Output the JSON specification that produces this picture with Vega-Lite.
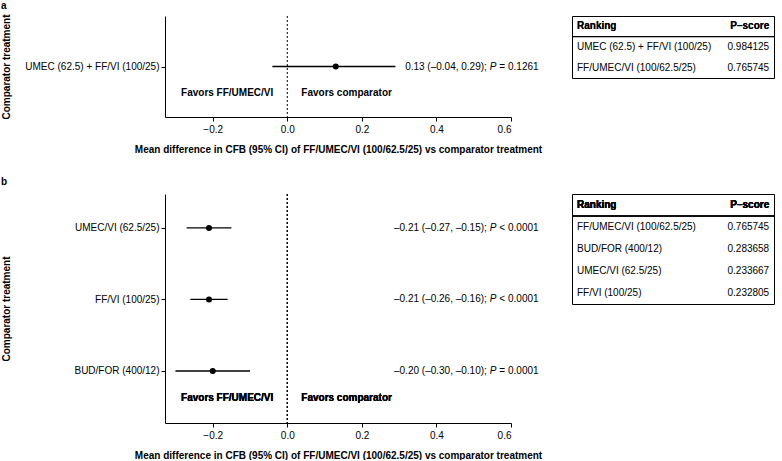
{
  "$schema": "https://vega.github.io/schema/vega-lite/v6.json",
  "padding": {"left": 1, "top": 0, "right": 0, "bottom": 0},
  "background": "white",
  "config": {
    "font": "Liberation Sans",
    "view": {"stroke": null},
    "axis": {"grid": false, "domainColor": "black", "tickColor": "black", "labelColor": "black", "titleColor": "black", "labelFontSize": 10, "titleFontSize": 10, "titleFontWeight": "bold", "tickSize": 4, "domainWidth": 1, "tickWidth": 1},
    "text": {"fontSize": 10, "color": "black"},
    "title": {"fontSize": 10, "fontWeight": "bold", "color": "black", "anchor": "start", "frame": "bounds", "offset": 3}
  },
  "datasets": {
    "forestA": [
      {"treatment": "UMEC (62.5) + FF/VI (100/25)", "est": 0.13, "lo": -0.04, "hi": 0.29, "ci": "0.13 (–0.04, 0.29);", "p": "= 0.1261"}
    ],
    "forestB": [
      {"treatment": "UMEC/VI (62.5/25)", "est": -0.21, "lo": -0.27, "hi": -0.15, "ci": "–0.21 (–0.27, –0.15);", "p": "< 0.0001"},
      {"treatment": "FF/VI (100/25)", "est": -0.21, "lo": -0.26, "hi": -0.16, "ci": "–0.21 (–0.26, –0.16);", "p": "< 0.0001"},
      {"treatment": "BUD/FOR (400/12)", "est": -0.20, "lo": -0.30, "hi": -0.10, "ci": "–0.20 (–0.30, –0.10);", "p": "= 0.0001"}
    ],
    "rankA": [
      {"treatment": "UMEC (62.5) + FF/VI (100/25)", "pscore": "0.984125"},
      {"treatment": "FF/UMEC/VI (100/62.5/25)", "pscore": "0.765745"}
    ],
    "rankB": [
      {"treatment": "FF/UMEC/VI (100/62.5/25)", "pscore": "0.765745"},
      {"treatment": "BUD/FOR (400/12)", "pscore": "0.283658"},
      {"treatment": "UMEC/VI (62.5/25)", "pscore": "0.233667"},
      {"treatment": "FF/VI (100/25)", "pscore": "0.232805"}
    ]
  },
  "spacing": 22,
  "vconcat": [
    {
      "title": {"text": "a"},
      "spacing": 29,
      "hconcat": [
        {
          "width": 346,
          "height": 101,
          "data": {"name": "forestA"},
          "encoding": {
            "y": {"field": "treatment", "type": "nominal", "scale": {"type": "point", "padding": 0.5}, "axis": {"title": "Comparator treatment", "titleX": -156, "titleBaseline": "alphabetic", "labelPadding": 2}},
            "x": {"type": "quantitative", "scale": {"domain": [-0.328, 0.6], "nice": false, "zero": false}, "axis": {"title": "Mean difference in CFB (95% CI) of FF/UMEC/VI (100/62.5/25) vs comparator treatment", "values": [-0.2, 0, 0.2, 0.4, 0.6], "format": ".1f", "labelPadding": 3, "titlePadding": 10}}
          },
          "layer": [
            {"mark": {"type": "rule", "strokeDash": [2, 2], "color": "black", "strokeWidth": 1}, "encoding": {"x": {"datum": 0}, "y": null}},
            {"mark": {"type": "rule", "color": "black", "strokeWidth": 1.3}, "encoding": {"x": {"field": "lo"}, "x2": {"field": "hi"}}},
            {"mark": {"type": "point", "filled": true, "color": "black", "opacity": 1, "size": 36}, "encoding": {"x": {"field": "est"}}},
            {"mark": {"type": "text", "align": "right", "dx": -3}, "encoding": {"x": {"datum": 0.5433}, "text": {"field": "ci"}}},
            {"mark": {"type": "text", "align": "left", "fontStyle": "italic"}, "encoding": {"x": {"datum": 0.5433}, "text": {"value": "P"}}},
            {"mark": {"type": "text", "align": "left", "dx": 9.5}, "encoding": {"x": {"datum": 0.5433}, "text": {"field": "p"}}},
            {"mark": {"type": "text", "align": "right", "dx": -14, "dy": 26, "fontWeight": "bold"}, "encoding": {"x": {"datum": 0}, "text": {"value": "Favors FF/UMEC/VI"}}},
            {"mark": {"type": "text", "align": "left", "dx": 14, "dy": 26, "fontWeight": "bold"}, "encoding": {"x": {"datum": 0}, "text": {"value": "Favors comparator"}}}
          ]
        },
        {
          "width": 202,
          "height": 62,
          "view": {"stroke": "black", "strokeWidth": 1},
          "data": {"name": "rankA"},
          "encoding": {
            "y": {"field": "treatment", "type": "nominal", "scale": {"type": "band", "domain": ["Ranking", "UMEC (62.5) + FF/VI (100/25)", "FF/UMEC/VI (100/62.5/25)"], "paddingInner": 0, "paddingOuter": 0}, "axis": null},
            "x": {"type": "quantitative", "scale": {"domain": [-0.026, 1.025], "nice": false, "zero": false}, "axis": null}
          },
          "layer": [
            {"mark": {"type": "rule", "color": "black", "strokeWidth": 1}, "encoding": {"y": {"datum": "Ranking", "bandPosition": 1}, "x": null}},
            {"mark": {"type": "text", "align": "left", "fontWeight": "bold"}, "encoding": {"y": {"datum": "Ranking"}, "x": {"datum": 0}, "text": {"value": "Ranking"}}},
            {"mark": {"type": "text", "align": "right", "fontWeight": "bold"}, "encoding": {"y": {"datum": "Ranking"}, "x": {"datum": 1}, "text": {"value": "P–score"}}},
            {"mark": {"type": "text", "align": "left"}, "encoding": {"x": {"datum": 0}, "text": {"field": "treatment"}}},
            {"mark": {"type": "text", "align": "right"}, "encoding": {"x": {"datum": 1}, "text": {"field": "pscore"}}}
          ]
        }
      ]
    },
    {
      "title": {"text": "b", "offset": 7},
      "spacing": 29,
      "hconcat": [
        {
          "width": 346,
          "height": 229,
          "data": {"name": "forestB"},
          "encoding": {
            "y": {"field": "treatment", "type": "nominal", "sort": null, "scale": {"type": "point", "padding": 0.601, "align": 0.395}, "axis": {"title": "Comparator treatment", "titleX": -156, "titleBaseline": "alphabetic", "labelPadding": 2}},
            "x": {"type": "quantitative", "scale": {"domain": [-0.328, 0.6], "nice": false, "zero": false}, "axis": {"title": "Mean difference in CFB (95% CI) of FF/UMEC/VI (100/62.5/25) vs comparator treatment", "values": [-0.2, 0, 0.2, 0.4, 0.6], "format": ".1f", "labelPadding": 3, "titlePadding": 10}}
          },
          "layer": [
            {"mark": {"type": "rule", "strokeDash": [2, 2], "color": "black", "strokeWidth": 1}, "encoding": {"x": {"datum": 0}, "y": null}},
            {"mark": {"type": "rule", "color": "black", "strokeWidth": 1.3}, "encoding": {"x": {"field": "lo"}, "x2": {"field": "hi"}}},
            {"mark": {"type": "point", "filled": true, "color": "black", "opacity": 1, "size": 36}, "encoding": {"x": {"field": "est"}}},
            {"mark": {"type": "text", "align": "right", "dx": -3}, "encoding": {"x": {"datum": 0.5433}, "text": {"field": "ci"}}},
            {"mark": {"type": "text", "align": "left", "fontStyle": "italic"}, "encoding": {"x": {"datum": 0.5433}, "text": {"value": "P"}}},
            {"mark": {"type": "text", "align": "left", "dx": 9.5}, "encoding": {"x": {"datum": 0.5433}, "text": {"field": "p"}}},
            {"mark": {"type": "text", "align": "right", "dx": -14, "dy": 27, "fontWeight": "bold"}, "encoding": {"x": {"datum": 0}, "y": {"datum": "BUD/FOR (400/12)"}, "text": {"value": "Favors FF/UMEC/VI"}}},
            {"mark": {"type": "text", "align": "left", "dx": 14, "dy": 27, "fontWeight": "bold"}, "encoding": {"x": {"datum": 0}, "y": {"datum": "BUD/FOR (400/12)"}, "text": {"value": "Favors comparator"}}}
          ]
        },
        {
          "width": 202,
          "height": 110,
          "view": {"stroke": "black", "strokeWidth": 1},
          "data": {"name": "rankB"},
          "encoding": {
            "y": {"field": "treatment", "type": "nominal", "scale": {"type": "band", "domain": ["Ranking", "FF/UMEC/VI (100/62.5/25)", "BUD/FOR (400/12)", "UMEC/VI (62.5/25)", "FF/VI (100/25)"], "paddingInner": 0, "paddingOuter": 0}, "axis": null},
            "x": {"type": "quantitative", "scale": {"domain": [-0.026, 1.025], "nice": false, "zero": false}, "axis": null}
          },
          "layer": [
            {"mark": {"type": "rule", "color": "black", "strokeWidth": 1}, "encoding": {"y": {"datum": "Ranking", "bandPosition": 1}, "x": null}},
            {"mark": {"type": "text", "align": "left", "fontWeight": "bold"}, "encoding": {"y": {"datum": "Ranking"}, "x": {"datum": 0}, "text": {"value": "Ranking"}}},
            {"mark": {"type": "text", "align": "right", "fontWeight": "bold"}, "encoding": {"y": {"datum": "Ranking"}, "x": {"datum": 1}, "text": {"value": "P–score"}}},
            {"mark": {"type": "text", "align": "left"}, "encoding": {"x": {"datum": 0}, "text": {"field": "treatment"}}},
            {"mark": {"type": "text", "align": "right"}, "encoding": {"x": {"datum": 1}, "text": {"field": "pscore"}}}
          ]
        }
      ]
    }
  ]
}
